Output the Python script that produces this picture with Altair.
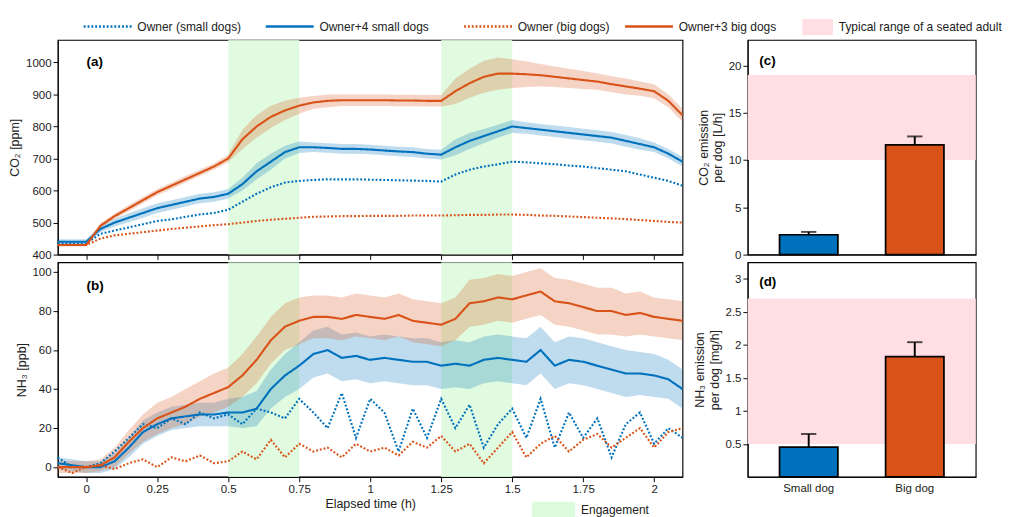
import altair as alt
import pandas as pd

BLUE = "#0072BD"
ORANGE = "#D95319"
GREEN = "#dcfadc"
PINK = "#ffdfe3"

t = [round(-0.1 + 0.05 * i, 2) for i in range(45)]

co2_small_dogs = [440, 440, 440, 480, 500, 515, 530, 545, 555, 565, 575, 580, 590, 620, 660, 690, 720, 735,
                  735, 733, 730, 730, 728, 725, 722, 720, 715, 712, 735, 755, 770, 785, 800, 795, 790, 785,
                  780, 775, 770, 765, 755, 745, 735, 715, 690]
co2_small_band = [8, 8, 8, 10, 12, 14, 15, 15, 15, 15, 15, 15, 15, 20, 25, 25, 20, 18, 15, 15, 15, 15, 15, 15,
                  15, 15, 15, 15, 25, 25, 22, 20, 20, 18, 18, 18, 18, 18, 18, 18, 18, 18, 15, 15, 15]
co2_small_owner = [435, 435, 435, 465, 475, 485, 495, 505, 510, 518, 525, 530, 540, 565, 590, 610, 625, 630,
                   633, 635, 635, 635, 634, 633, 632, 631, 630, 628, 650, 665, 675, 682, 690, 688, 685, 682,
                   678, 675, 670, 665, 660, 650, 640, 630, 615]
co2_big_dogs = [430, 430, 430, 490, 520, 545, 570, 595, 615, 635, 655, 675, 700, 760, 800, 830, 850, 865,
                875, 880, 882, 882, 882, 882, 881, 881, 880, 880, 910, 935, 955, 965, 965, 963, 960, 955,
                950, 945, 940, 932, 925, 918, 910, 880, 835]
co2_big_band = [5, 5, 5, 8, 8, 10, 10, 10, 10, 10, 10, 10, 12, 30, 35, 35, 30, 25, 20, 20, 18, 18, 18, 18,
                18, 18, 18, 18, 40, 45, 50, 50, 45, 40, 35, 32, 30, 28, 25, 25, 25, 22, 22, 20, 20]
co2_big_owner = [430, 430, 430, 450, 460, 465, 470, 475, 480, 484, 488, 492, 495, 500, 505, 509, 512, 515,
                 518, 519, 520, 520, 521, 521, 521, 522, 522, 522, 523, 524, 524, 525, 525, 524, 522, 521,
                 519, 517, 515, 513, 511, 508, 505, 502, 500]

nh3_small_dogs = [2, 1, 0, 0, 3, 10, 18, 22, 25, 26, 27, 27, 28, 28, 30, 40, 47, 52, 58, 60, 56, 57, 55, 56,
                  55, 54, 54, 52, 53, 52, 55, 56, 55, 54, 60, 52, 55, 54, 52, 50, 48, 48, 47, 45, 40]
nh3_small_band = [3, 3, 3, 3, 4, 5, 6, 6, 6, 6, 6, 6, 7, 8, 9, 10, 11, 12, 12, 12, 12, 12, 12, 12, 12, 12,
                  12, 12, 12, 12, 12, 12, 12, 12, 12, 12, 12, 12, 12, 12, 12, 11, 11, 10, 10]
nh3_small_owner = [5, 0, 0, 2, 8, 15, 22, 20, 25, 22, 28, 25, 27, 22, 30, 28, 25, 35, 28, 20, 38, 15, 35, 28,
                   8, 30, 15, 35, 20, 32, 10, 22, 30, 15, 35, 10, 28, 15, 25, 5, 22, 28, 12, 20, 15]
nh3_big_dogs = [0, 0, 0, 1, 5, 13, 20, 25, 28, 31, 35, 38, 41, 47, 55, 65, 72, 75, 77, 77, 76, 78, 77, 76,
                78, 75, 74, 73, 76, 84, 85, 87, 86, 88, 90, 85, 84, 82, 80, 80, 78, 79, 77, 76, 75]
nh3_big_band = [3, 3, 3, 3, 5, 6, 7, 8, 8, 9, 9, 10, 10, 11, 12, 12, 12, 12, 11, 11, 11, 11, 11, 11, 11, 11,
                11, 11, 11, 12, 12, 12, 12, 12, 12, 12, 12, 12, 12, 12, 11, 11, 10, 10, 10]
nh3_big_owner = [0, -3, 0, 1, -1, 2, 4, 0, 5, 3, 6, 2, 3, 8, 4, 14, 5, 12, 8, 10, 5, 12, 8, 10, 6, 13, 10,
                 16, 8, 12, 2, 10, 18, 5, 12, 16, 8, 14, 17, 10, 15, 20, 10, 18, 20]

series = ["Owner (small dogs)", "Owner+4 small dogs", "Owner (big dogs)", "Owner+3 big dogs"]
colors = [BLUE, BLUE, ORANGE, ORANGE]
dashes = [[2, 2], [1, 0], [2, 2], [1, 0]]
adult_label = "Typical range of a seated adult"

dogs = ["Small dog", "Big dog"]
co2_rate = [2.1, 11.6]
co2_err = [0.3, 0.9]
nh3_rate = [0.45, 1.82]
nh3_err = [0.2, 0.22]
co2_adult = [10, 19]
nh3_adult = [0.5, 2.7]
engagement = [(0.5, 0.75), (1.25, 1.5)]

FONT = "Liberation Sans"


def long_df(owner_s, dogs_s, band_s, owner_b, dogs_b, band_b):
    rows = []
    for name, vals, band in [(series[0], owner_s, None), (series[1], dogs_s, band_s),
                             (series[2], owner_b, None), (series[3], dogs_b, band_b)]:
        for i, ti in enumerate(t):
            b = band[i] if band else 0
            rows.append({"t": ti, "series": name, "v": vals[i], "lo": vals[i] - b, "hi": vals[i] + b,
                         "band": band is not None})
    return pd.DataFrame(rows)


xscale = alt.Scale(domain=[-0.1, 2.1], nice=False)
cscale = alt.Scale(domain=series, range=colors)
dscale = alt.Scale(domain=series, range=dashes)
W, H = 652, 224
eng_df = pd.DataFrame({"a": [e[0] for e in engagement], "b": [e[1] for e in engagement]})


def ts_panel(df, ydom, ytitle, label, label_y, show_x):
    ys = alt.Scale(domain=ydom, nice=False)
    eng = alt.Chart(eng_df).mark_rect(color=GREEN, opacity=0.85).encode(
        x=alt.X("a:Q", scale=xscale), x2="b")
    band = alt.Chart(df[df.band]).mark_area(opacity=0.25).encode(
        x=alt.X("t:Q", scale=xscale), y=alt.Y("lo:Q", scale=ys), y2="hi",
        color=alt.Color("series:N", scale=cscale, legend=None))
    lines = alt.Chart(df).mark_line(strokeWidth=2.2).encode(
        x=alt.X("t:Q", scale=xscale,
                axis=alt.Axis(values=[0, 0.25, 0.5, 0.75, 1, 1.25, 1.5, 1.75, 2], labels=show_x,
                              format=".3~g", labelOverlap=False,
                              title="Elapsed time (h)" if show_x else None, grid=False,
                              labelFontSize=12, titleFontSize=13, titleFontWeight="normal")),
        y=alt.Y("v:Q", scale=ys,
                axis=alt.Axis(title=ytitle, grid=False, labelFontSize=12, titleFontSize=13, format="d",
                              titleFontWeight="normal", tickCount=7)),
        color=alt.Color("series:N", scale=cscale, legend=None),
        strokeDash=alt.StrokeDash("series:N", scale=dscale, legend=None),
        order="t:Q")
    lab = alt.Chart(pd.DataFrame({"y": [label_y], "s": [label]})).mark_text(
        fontWeight="bold", fontSize=14, align="left", x=30).encode(
        y=alt.Y("y:Q", scale=ys), text="s:N")
    layers = [eng, band, lines, lab]
    if show_x:
        key = pd.DataFrame({"s": ["Engagement"]})
        layers.append(alt.Chart(key).mark_rect(color=GREEN).encode(
            x=alt.value(495), x2=alt.value(540), y=alt.value(H + 26), y2=alt.value(H + 42)))
        layers.append(alt.Chart(key).mark_text(align="left", fontSize=12.5, color="#222").encode(
            x=alt.value(546), y=alt.value(H + 35), text="s:N"))
    return alt.layer(*layers).properties(width=W, height=H)


co2_df = long_df(co2_small_owner, co2_small_dogs, co2_small_band, co2_big_owner, co2_big_dogs, co2_big_band)
nh3_df = long_df(nh3_small_owner, nh3_small_dogs, nh3_small_band, nh3_big_owner, nh3_big_dogs, nh3_big_band)

pa = ts_panel(co2_df, [400, 1070], "CO₂ [ppm]", "(a)", 1000, False)
pb = ts_panel(nh3_df, [-5, 105], "NH₃ [ppb]", "(b)", 93, True)


def bar_panel(vals, errs, band, ydom, ytitle, label, label_y, show_x, ticks):
    d = pd.DataFrame({"dog": dogs, "v": vals, "hi": [v + e for v, e in zip(vals, errs)]})
    ys = alt.Scale(domain=ydom, nice=False)
    xs = alt.X("dog:N", sort=dogs, scale=alt.Scale(paddingInner=0.45, paddingOuter=0.3),
               axis=alt.Axis(title=None, labels=show_x, labelAngle=0, ticks=False, labelFontSize=12,
                             labelPadding=6))
    pink = alt.Chart(pd.DataFrame({"a": [band[0]], "b": [band[1]]})).mark_rect(color=PINK).encode(
        y=alt.Y("a:Q", scale=ys), y2="b")
    err = alt.Chart(d).mark_rule(color="black", strokeWidth=2).encode(
        x=xs, y=alt.Y("v:Q", scale=ys), y2="hi")
    cap = alt.Chart(d).mark_tick(color="black", thickness=2, size=16, orient="horizontal").encode(
        x=xs, y=alt.Y("hi:Q", scale=ys))
    bars = alt.Chart(d).mark_bar(stroke="black", strokeWidth=1.8).encode(
        x=xs,
        y=alt.Y("v:Q", scale=ys, axis=alt.Axis(title=ytitle, grid=False, values=ticks, labelFontSize=12,
                                               format="~g", titleFontSize=13, titleFontWeight="normal")),
        fill=alt.Fill("dog:N", scale=alt.Scale(domain=dogs, range=[BLUE, ORANGE]), legend=None))
    lab = alt.Chart(pd.DataFrame({"y": [label_y], "s": [label]})).mark_text(
        fontWeight="bold", fontSize=14, x=12, align="left").encode(
        y=alt.Y("y:Q", scale=ys), text="s:N")
    return alt.layer(pink, err, cap, bars, lab).properties(width=238, height=H)


pc = bar_panel(co2_rate, co2_err, co2_adult, [0, 22.7], ["CO₂ emission", "per dog [L/h]"],
               "(c)", 20.5, False, [0, 5, 10, 15, 20])
pd_ = bar_panel(nh3_rate, nh3_err, nh3_adult, [0, 3.25], ["NH₃ emission", "per dog [mg/h]"],
                "(d)", 2.95, True, [0.5, 1, 1.5, 2, 2.5, 3])

# legend row across the top
leg = pd.DataFrame({"s": series + [adult_label], "i": [0, 1, 2, 3, 4],
                    "x": [27, 217, 424, 592, 777], "w": [50, 50, 50, 50, 32]})
leg["x2"] = leg.x + leg.w
leg["tx"] = leg.x2 + 6
lscale = alt.Scale(domain=[0, 1000], range=[0, 1000], nice=False)
leg_rule = alt.Chart(leg[leg.i < 4]).mark_rule(strokeWidth=2.5).encode(
    x=alt.X("x:Q", scale=lscale, axis=None), x2="x2:Q",
    color=alt.Color("s:N", scale=cscale, legend=None),
    strokeDash=alt.StrokeDash("s:N", scale=dscale, legend=None), y=alt.value(7))
leg_box = alt.Chart(leg[leg.i == 4]).mark_rect(color=PINK).encode(
    x=alt.X("x:Q", scale=lscale, axis=None), x2="x2:Q", y=alt.value(-1), y2=alt.value(16))
leg_text = alt.Chart(leg).mark_text(align="left", fontSize=12.5, font=FONT, color="#222").encode(
    x=alt.X("tx:Q", scale=lscale, axis=None), y=alt.value(8), text="s:N")
legend = alt.layer(leg_rule, leg_box, leg_text).properties(
    width=1000, height=12, view=alt.ViewConfig(stroke=None))

left = alt.vconcat(pa, pb, spacing=0)
right = alt.vconcat(pc, pd_, spacing=0)
body = alt.hconcat(left, right, spacing=6)

chart = alt.vconcat(legend, body, spacing=4).resolve_scale(
    color="independent", fill="independent", strokeDash="independent", x="independent"
).configure_view(stroke="black", strokeWidth=1.2).configure_axis(
    domainColor="black", tickColor="black", labelColor="#222", titleColor="#222",
    labelFont=FONT, titleFont=FONT).configure_text(font=FONT).properties(
    padding={"top": 0, "left": 0, "right": 0, "bottom": 0})

chart.save("out.html", embed_options={"renderer": "svg", "actions": False})
